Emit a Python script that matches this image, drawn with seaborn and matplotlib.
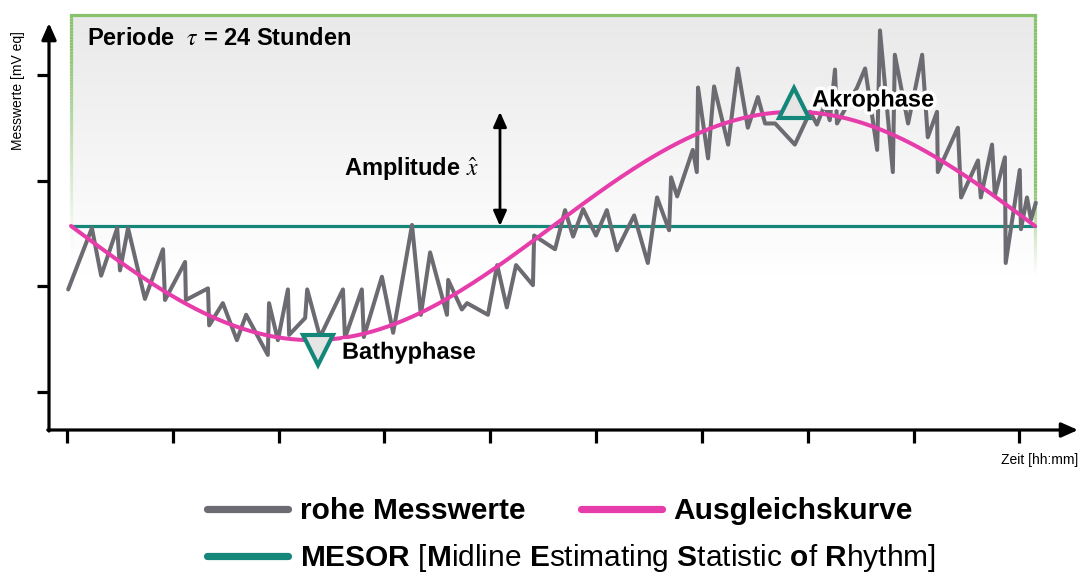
import numpy as np
import pandas as pd
import matplotlib
matplotlib.use("Agg")
import matplotlib.pyplot as plt
import matplotlib.patheffects as pe
import matplotlib.transforms as mtransforms
from matplotlib.lines import Line2D
from matplotlib.collections import LineCollection
from matplotlib.colors import LinearSegmentedColormap, to_rgba
import seaborn as sns

# ---------------------------------------------------------------- data
# raw measurements: time of day [h] and measured value [mV eq]
raw_time = [-0.07, 0.52, 0.75, 1.15, 1.22, 1.42, 1.84, 2.29, 2.34, 2.84,
            2.86, 3.41, 3.44, 3.78, 4.13, 4.36, 4.90, 4.93, 5.15, 5.40,
            5.43, 5.83, 5.88, 6.20, 6.77, 6.82, 7.24, 7.29, 7.74, 8.02,
            8.49, 8.71, 8.94, 9.36, 9.39, 9.73, 9.86, 10.38, 10.61, 10.85,
            11.08, 11.50, 11.53, 12.05, 12.30, 12.50, 12.75, 13.07, 13.34, 13.59,
            14.02, 14.36, 14.59, 14.89, 14.94, 15.09, 15.48, 15.58, 15.61, 15.86,
            16.01, 16.36, 16.60, 16.85, 17.10, 17.28, 17.53, 18.02, 18.40, 18.57,
            18.77, 18.89, 19.02, 19.07, 19.57, 19.77, 20.07, 20.14, 20.46, 20.51,
            20.84, 21.19, 21.33, 21.56, 21.58, 22.08, 22.16, 22.58, 22.65, 22.93,
            23.00, 23.25, 23.27, 23.62, 23.65, 23.80, 23.90, 24.02]
raw_value = [1.97, 2.55, 2.10, 2.55, 2.15, 2.55, 1.88, 2.35, 1.87, 2.23,
             1.87, 1.98, 1.63, 1.84, 1.49, 1.73, 1.35, 1.84, 1.49, 1.97,
             1.54, 1.70, 1.97, 1.52, 1.97, 1.51, 1.97, 1.52, 2.09, 1.56,
             2.58, 1.73, 2.32, 1.73, 2.06, 1.78, 1.84, 1.73, 2.20, 1.80,
             2.20, 2.01, 2.48, 2.35, 2.72, 2.47, 2.73, 2.48, 2.72, 2.34,
             2.67, 2.22, 2.84, 2.53, 3.03, 2.85, 3.29, 3.08, 3.88, 3.21,
             3.89, 3.34, 4.06, 3.50, 3.79, 3.54, 3.54, 3.34, 3.65, 3.53,
             3.72, 3.57, 4.05, 3.54, 3.88, 4.06, 3.29, 4.42, 3.08, 4.19,
             3.54, 4.19, 3.41, 3.65, 3.08, 3.50, 2.84, 3.19, 2.84, 3.34,
             2.86, 3.22, 2.22, 3.10, 2.54, 2.84, 2.63, 2.79]

# cosinor parameters
period = 24.0          # tau [h]
mesor = 2.57           # midline estimating statistic of rhythm
amplitude = 1.08
akrophase = 18.0       # time of the maximum [h]
bathyphase = akrophase - period / 2

# unlabeled axis ticks
x_tick_times = [-0.10, 2.53, 5.17, 7.80, 10.44, 13.07, 15.71, 18.34, 20.98, 23.61]
y_tick_values = [1, 2, 3, 4]

labels = {
    "raw": "rohe Messwerte",
    "fit": "Ausgleichskurve",
    "mesor": r"$\mathbf{MESOR}$ [$\mathbf{M}$idline $\mathbf{E}$stimating "
             r"$\mathbf{S}$tatistic $\mathbf{o}$f $\mathbf{R}$hythm]",
}

# ---------------------------------------------------------------- style
GRAY = "#6b6b71"
MAGENTA = "#e63dab"
TEAL = "#14877a"
GREEN = "#88c26b"

sns.set_theme(style="white")
plt.rcParams["font.family"] = ["Liberation Sans", "DejaVu Sans"]
plt.rcParams["text.color"] = "black"
plt.rcParams["mathtext.fontset"] = "custom"
plt.rcParams["mathtext.rm"] = "Liberation Sans"
plt.rcParams["mathtext.bf"] = "Liberation Sans:bold"
plt.rcParams["mathtext.it"] = "Liberation Sans:italic"

fig = plt.figure(figsize=(10.8, 5.75), dpi=100)
ax = fig.add_axes([49 / 1080, 145 / 575, 1029 / 1080, 420 / 575])

x_min, x_max = -0.548, 25.07
y_min, y_max = 0.640, 4.6135
box_top, box_bottom = 4.566, 2.106

# ---------------------------------------------------------------- backdrop
grad = np.linspace(1, 0, 256).reshape(-1, 1)
bg_cmap = LinearSegmentedColormap.from_list("bg", ["#ffffff", "#f4f4f4", "#e9e9e9"])
ax.imshow(grad, extent=[0, period, box_bottom, box_top], cmap=bg_cmap,
          aspect="auto", origin="upper", vmin=0, vmax=1, zorder=0)

ax.plot([0, period], [box_top, box_top], color=GREEN, lw=2.3,
        solid_capstyle="projecting", zorder=1)


def fading_edge(x, v_end, solid_to):
    vs = np.linspace(box_top, v_end, 80)
    segs = [[(x, vs[i]), (x, vs[i + 1])] for i in range(len(vs) - 1)]
    mids = 0.5 * (vs[:-1] + vs[1:])
    alpha = np.clip((mids - v_end) / (solid_to - v_end), 0, 1) ** 1.3
    cols = [to_rgba(GREEN, a) for a in alpha]
    ax.add_collection(LineCollection(segs, colors=cols, linewidths=2.3, zorder=1))


fading_edge(0.0, 2.30, 4.3)
fading_edge(period, 2.10, 2.95)

# ---------------------------------------------------------------- lines
raw_df = pd.DataFrame({"time": raw_time, "value": raw_value})
fit_time = np.linspace(0, period, 241)
fit_df = pd.DataFrame({
    "time": fit_time,
    "value": mesor + amplitude * np.cos(2 * np.pi * (fit_time - akrophase) / period),
})
mesor_df = pd.DataFrame({"time": [0, period], "value": [mesor, mesor]})

sns.lineplot(data=mesor_df, x="time", y="value", ax=ax, color=TEAL, lw=2.3,
             estimator=None, sort=False, zorder=2)
sns.lineplot(data=raw_df, x="time", y="value", ax=ax, color=GRAY, lw=2.9,
             estimator=None, sort=False, zorder=3)
sns.lineplot(data=fit_df, x="time", y="value", ax=ax, color=MAGENTA, lw=2.9,
             estimator=None, sort=False, zorder=4)

# phase markers
akro_tr = mtransforms.offset_copy(ax.transData, fig=fig, x=0, y=6.5, units="points")
bathy_tr = mtransforms.offset_copy(ax.transData, fig=fig, x=4.3, y=-7.2, units="points")
ax.plot([akrophase], [mesor + amplitude], marker="^", ms=21, mfc="#e5e5e5",
        mec=TEAL, mew=3, transform=akro_tr, zorder=6, clip_on=False)
ax.plot([bathyphase], [mesor - amplitude], marker="v", ms=21, mfc="#e5e5e5",
        mec=TEAL, mew=3, transform=bathy_tr, zorder=6, clip_on=False)

halo = [pe.withStroke(linewidth=5, foreground="white")]
ax.text(18.45, 3.762, "Akrophase", fontsize=17, fontweight="bold",
        ha="left", va="center", path_effects=halo, zorder=7)
ax.text(6.746, 1.375, "Bathyphase", fontsize=17, fontweight="bold",
        ha="left", va="center", path_effects=halo, zorder=7)

# amplitude arrow
ax.annotate("", xy=(10.68, mesor + amplitude), xytext=(10.68, mesor),
            arrowprops=dict(arrowstyle="<|-|>,head_length=0.45,head_width=0.2",
                            color="black", lw=2.0, mutation_scale=20,
                            shrinkA=0, shrinkB=0), zorder=5)
ax.text(6.80, 3.11, r"Amplitude $\hat{x}$", fontsize=17, fontweight="bold",
        ha="left", va="center", math_fontfamily="stix", zorder=7)

ax.text(0.40, 4.345, r"Periode  $\tau$ = 24 Stunden", fontsize=17,
        fontweight="bold", ha="left", va="center", math_fontfamily="stix", zorder=7)

# ---------------------------------------------------------------- axes
ax.set_xlim(x_min, x_max)
ax.set_ylim(y_min, y_max)
ax.set_xticks(x_tick_times)
ax.set_yticks(y_tick_values)
ax.tick_params(axis="both", direction="out", length=9, width=2.3, color="black",
               bottom=True, left=True, labelbottom=False, labelleft=False)
for sp in ax.spines.values():
    sp.set_visible(False)
ax.set_xlabel("")
ax.set_ylabel("")

axis_arrow = dict(arrowstyle="-|>,head_length=0.45,head_width=0.2", color="black",
                  lw=2.3, mutation_scale=22, shrinkA=0, shrinkB=0)
ax.annotate("", xy=(x_max, y_min), xytext=(x_min - 0.03, y_min),
            arrowprops=axis_arrow, annotation_clip=False)
ax.annotate("", xy=(x_min, 4.49), xytext=(x_min, y_min - 0.01),
            arrowprops=axis_arrow, annotation_clip=False)

fig.text(18 / 1080, 1 - 91 / 575, "Messwerte [mV eq]", rotation=90, fontsize=10,
         ha="center", va="center")
fig.text(1078 / 1080, 1 - 460 / 575, "Zeit [hh:mm]", fontsize=10,
         ha="right", va="center")

# ---------------------------------------------------------------- legend
def legend_entry(color, text, x_px, y_px, weight):
    handle = Line2D([], [], color=color, lw=5.2, solid_capstyle="round")
    leg = fig.legend([handle], [text], loc="center left",
                     bbox_to_anchor=(x_px / 1080, 1 - y_px / 575),
                     frameon=False, borderpad=0, borderaxespad=0,
                     handlelength=2.74, handletextpad=0.38,
                     prop={"size": 21.5, "weight": weight})
    for t in leg.get_texts():
        t.set_color("black")
    return leg


legend_entry(GRAY, labels["raw"], 206.5, 511, "bold")
legend_entry(MAGENTA, labels["fit"], 580.5, 511, "bold")
legend_entry(TEAL, labels["mesor"], 206.5, 558, "normal")

fig.savefig("out.png", dpi=100)
